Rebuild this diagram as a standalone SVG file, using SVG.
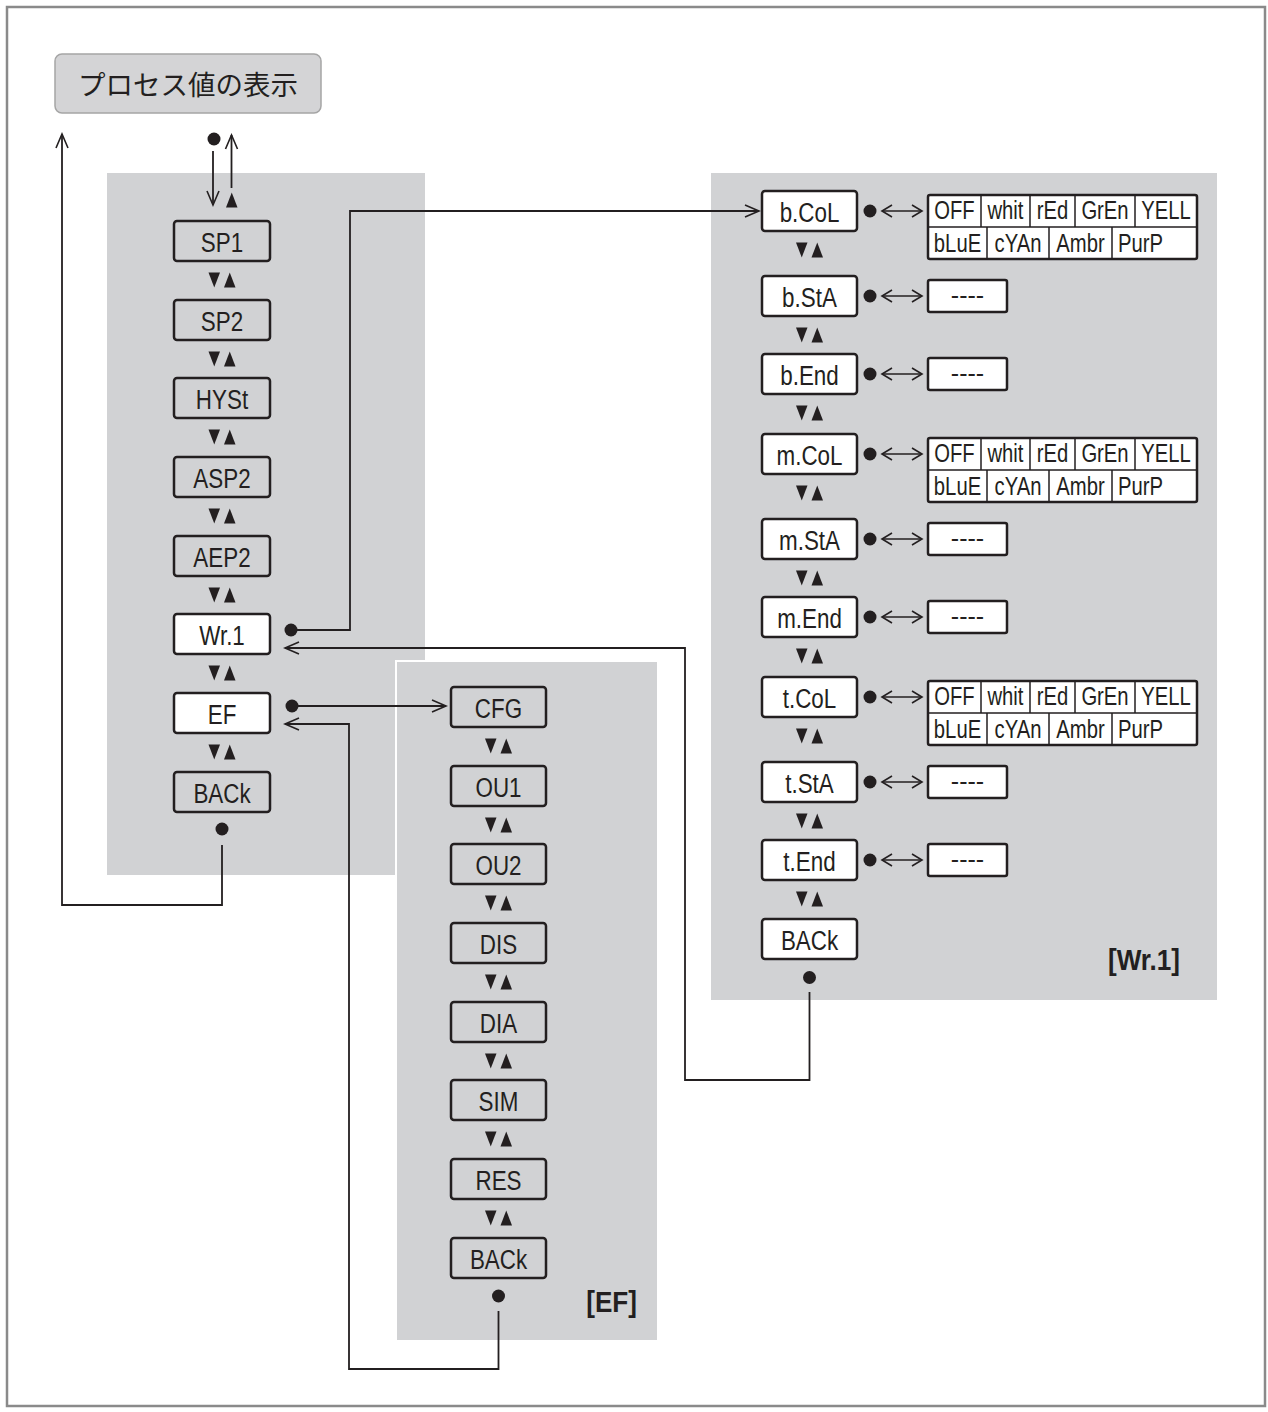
<svg xmlns="http://www.w3.org/2000/svg" xmlns:xlink="http://www.w3.org/1999/xlink" width="1268" height="1412" viewBox="0 0 1268 1412">
<style>
.panel{fill:#d1d2d4}
.box{fill:none;stroke:#231f20;stroke-width:2.5}
.wbox{fill:#ffffff;stroke:#231f20;stroke-width:2.5}
.n{font-family:"Liberation Sans",Arial,sans-serif;font-size:28px;fill:#231f20;text-anchor:middle}
.o{font-family:"Liberation Sans",Arial,sans-serif;font-size:25px;fill:#231f20;text-anchor:middle}
.ol{font-family:"Liberation Sans",Arial,sans-serif;font-size:25px;fill:#231f20;text-anchor:start}
.lbl{font-family:"Liberation Sans",Arial,sans-serif;font-size:29px;font-weight:bold;fill:#231f20;text-anchor:end}
.c{fill:none;stroke:#231f20;stroke-width:1.8}
.d{fill:none;stroke:#231f20;stroke-width:1.6}
.grid{stroke:#231f20;stroke-width:1.5}
.dot{fill:#231f20}
</style>
<defs>
<marker id="op" viewBox="-15 -8 17 16" refX="0" refY="0" markerWidth="17" markerHeight="16" markerUnits="userSpaceOnUse" orient="auto-start-reverse">
<path d="M-14,-6 L0,0 L-14,6" fill="none" stroke="#231f20" stroke-width="1.6"/>
</marker>
<marker id="dbl" viewBox="-12 -8 14 16" refX="0" refY="0" markerWidth="14" markerHeight="16" markerUnits="userSpaceOnUse" orient="auto-start-reverse">
<path d="M-10,-6 L0,0 L-10,6" fill="none" stroke="#231f20" stroke-width="1.6"/>
</marker>
<symbol id="ud" overflow="visible">
<polygon points="-13.5,-7.5 -2,-7.5 -7.75,7.5" fill="#231f20"/>
<polygon points="2,7.5 13.5,7.5 7.75,-7.5" fill="#231f20"/>
</symbol>
</defs>
<rect x="0" y="0" width="1268" height="1412" fill="#ffffff"/>
<rect x="7" y="7" width="1258" height="1399" fill="none" stroke="#8a8a8a" stroke-width="2.5"/>

<g id="panels">
<rect class="panel" x="107" y="173" width="318" height="702"/>
<rect class="panel" x="711" y="173" width="506" height="827"/>
<rect class="panel" x="396" y="661" width="262" height="680" stroke="#ffffff" stroke-width="2"/>
</g>

<g id="title">
<rect x="55" y="54" width="266" height="59" rx="7" fill="#d4d4d6" stroke="#a5a5a5" stroke-width="1.5"/>
<text x="188" y="95" style="font-family:'Noto Sans CJK JP','Noto Sans CJK SC',sans-serif;font-size:27.5px;fill:#231f20;text-anchor:middle">プロセス値の表示</text>
</g>

<g id="connectors">
<circle class="dot" cx="214" cy="139" r="6.5"/>
<path class="c" d="M213,151 V205" marker-end="url(#op)"/>
<polygon points="226,207.5 237.5,207.5 231.75,192.5" fill="#231f20"/>
<path class="c" d="M231.5,188 V135" marker-end="url(#op)"/>
<circle class="dot" cx="222" cy="829" r="6.5"/>
<path class="c" d="M222,845 V905 H62 V134" marker-end="url(#op)"/>
<circle class="dot" cx="291" cy="630" r="6.5"/>
<path class="c" d="M291,630 H350 V211 H759" marker-end="url(#op)"/>
<circle class="dot" cx="809.5" cy="977.5" r="6.5"/>
<path class="c" d="M809.5,992 V1080 H685 V648 H285" marker-end="url(#op)"/>
<circle class="dot" cx="292" cy="706" r="6.5"/>
<path class="c" d="M292,706 H446" marker-end="url(#op)"/>
<circle class="dot" cx="498.5" cy="1296" r="6.5"/>
<path class="c" d="M498.5,1311 V1369 H349 V724 H285" marker-end="url(#op)"/>
<use xlink:href="#ud" x="222" y="280"/>
<use xlink:href="#ud" x="222" y="359"/>
<use xlink:href="#ud" x="222" y="437"/>
<use xlink:href="#ud" x="222" y="516"/>
<use xlink:href="#ud" x="222" y="595"/>
<use xlink:href="#ud" x="222" y="673"/>
<use xlink:href="#ud" x="222" y="752"/>
<use xlink:href="#ud" x="809.5" y="250"/>
<use xlink:href="#ud" x="809.5" y="335"/>
<use xlink:href="#ud" x="809.5" y="413"/>
<use xlink:href="#ud" x="809.5" y="493"/>
<use xlink:href="#ud" x="809.5" y="578"/>
<use xlink:href="#ud" x="809.5" y="656"/>
<use xlink:href="#ud" x="809.5" y="736"/>
<use xlink:href="#ud" x="809.5" y="821"/>
<use xlink:href="#ud" x="809.5" y="899"/>
<use xlink:href="#ud" x="498.5" y="746"/>
<use xlink:href="#ud" x="498.5" y="825"/>
<use xlink:href="#ud" x="498.5" y="903"/>
<use xlink:href="#ud" x="498.5" y="982"/>
<use xlink:href="#ud" x="498.5" y="1061"/>
<use xlink:href="#ud" x="498.5" y="1139"/>
<use xlink:href="#ud" x="498.5" y="1218"/>
<circle class="dot" cx="870" cy="211" r="6.5"/><path class="d" d="M882,211 H922" marker-start="url(#dbl)" marker-end="url(#dbl)"/>
<circle class="dot" cx="870" cy="296" r="6.5"/><path class="d" d="M882,296 H922" marker-start="url(#dbl)" marker-end="url(#dbl)"/>
<circle class="dot" cx="870" cy="374" r="6.5"/><path class="d" d="M882,374 H922" marker-start="url(#dbl)" marker-end="url(#dbl)"/>
<circle class="dot" cx="870" cy="454" r="6.5"/><path class="d" d="M882,454 H922" marker-start="url(#dbl)" marker-end="url(#dbl)"/>
<circle class="dot" cx="870" cy="539" r="6.5"/><path class="d" d="M882,539 H922" marker-start="url(#dbl)" marker-end="url(#dbl)"/>
<circle class="dot" cx="870" cy="617" r="6.5"/><path class="d" d="M882,617 H922" marker-start="url(#dbl)" marker-end="url(#dbl)"/>
<circle class="dot" cx="870" cy="697" r="6.5"/><path class="d" d="M882,697 H922" marker-start="url(#dbl)" marker-end="url(#dbl)"/>
<circle class="dot" cx="870" cy="782" r="6.5"/><path class="d" d="M882,782 H922" marker-start="url(#dbl)" marker-end="url(#dbl)"/>
<circle class="dot" cx="870" cy="860" r="6.5"/><path class="d" d="M882,860 H922" marker-start="url(#dbl)" marker-end="url(#dbl)"/>
</g>

<g id="n-SP1"><rect class="box" x="174" y="221" width="96" height="40" rx="3"/><text class="n" transform="matrix(0.8 0 0 1 222 251.5)">SP1</text></g>
<g id="n-SP2"><rect class="box" x="174" y="300" width="96" height="40" rx="3"/><text class="n" transform="matrix(0.8 0 0 1 222 330.5)">SP2</text></g>
<g id="n-HYSt"><rect class="box" x="174" y="378" width="96" height="40" rx="3"/><text class="n" transform="matrix(0.8 0 0 1 222 408.5)">HYSt</text></g>
<g id="n-ASP2"><rect class="box" x="174" y="457" width="96" height="40" rx="3"/><text class="n" transform="matrix(0.8 0 0 1 222 487.5)">ASP2</text></g>
<g id="n-AEP2"><rect class="box" x="174" y="536" width="96" height="40" rx="3"/><text class="n" transform="matrix(0.8 0 0 1 222 566.5)">AEP2</text></g>
<g id="n-Wr1"><rect class="wbox" x="174" y="614" width="96" height="40" rx="3"/><text class="n" transform="matrix(0.8 0 0 1 222 644.5)">Wr.1</text></g>
<g id="n-EF"><rect class="wbox" x="174" y="693" width="96" height="40" rx="3"/><text class="n" transform="matrix(0.8 0 0 1 222 723.5)">EF</text></g>
<g id="n-BACk-main"><rect class="box" x="174" y="772" width="96" height="40" rx="3"/><text class="n" transform="matrix(0.8 0 0 1 222 802.5)">BACk</text></g>

<g id="n-CFG"><rect class="box" x="451" y="687" width="95" height="40" rx="3"/><text class="n" transform="matrix(0.8 0 0 1 498.5 717.5)">CFG</text></g>
<g id="n-OU1"><rect class="box" x="451" y="766" width="95" height="40" rx="3"/><text class="n" transform="matrix(0.8 0 0 1 498.5 796.5)">OU1</text></g>
<g id="n-OU2"><rect class="box" x="451" y="844" width="95" height="40" rx="3"/><text class="n" transform="matrix(0.8 0 0 1 498.5 874.5)">OU2</text></g>
<g id="n-DIS"><rect class="box" x="451" y="923" width="95" height="40" rx="3"/><text class="n" transform="matrix(0.8 0 0 1 498.5 953.5)">DIS</text></g>
<g id="n-DIA"><rect class="box" x="451" y="1002" width="95" height="40" rx="3"/><text class="n" transform="matrix(0.8 0 0 1 498.5 1032.5)">DIA</text></g>
<g id="n-SIM"><rect class="box" x="451" y="1080" width="95" height="40" rx="3"/><text class="n" transform="matrix(0.8 0 0 1 498.5 1110.5)">SIM</text></g>
<g id="n-RES"><rect class="box" x="451" y="1159" width="95" height="40" rx="3"/><text class="n" transform="matrix(0.8 0 0 1 498.5 1189.5)">RES</text></g>
<g id="n-BACk-EF"><rect class="box" x="451" y="1238" width="95" height="40" rx="3"/><text class="n" transform="matrix(0.8 0 0 1 498.5 1268.5)">BACk</text></g>
<g id="lbl-EF"><text class="lbl" transform="matrix(0.9 0 0 1 637 1312)">[EF]</text></g>

<g id="n-bCoL"><rect class="wbox" x="762" y="191" width="95" height="40" rx="3"/><text class="n" transform="matrix(0.8 0 0 1 809.5 221.5)">b.CoL</text></g>
<g id="n-bStA"><rect class="wbox" x="762" y="276" width="95" height="40" rx="3"/><text class="n" transform="matrix(0.8 0 0 1 809.5 306.5)">b.StA</text></g>
<g id="n-bEnd"><rect class="wbox" x="762" y="354" width="95" height="40" rx="3"/><text class="n" transform="matrix(0.8 0 0 1 809.5 384.5)">b.End</text></g>
<g id="n-mCoL"><rect class="wbox" x="762" y="434" width="95" height="40" rx="3"/><text class="n" transform="matrix(0.8 0 0 1 809.5 464.5)">m.CoL</text></g>
<g id="n-mStA"><rect class="wbox" x="762" y="519" width="95" height="40" rx="3"/><text class="n" transform="matrix(0.8 0 0 1 809.5 549.5)">m.StA</text></g>
<g id="n-mEnd"><rect class="wbox" x="762" y="597" width="95" height="40" rx="3"/><text class="n" transform="matrix(0.8 0 0 1 809.5 627.5)">m.End</text></g>
<g id="n-tCoL"><rect class="wbox" x="762" y="677" width="95" height="40" rx="3"/><text class="n" transform="matrix(0.8 0 0 1 809.5 707.5)">t.CoL</text></g>
<g id="n-tStA"><rect class="wbox" x="762" y="762" width="95" height="40" rx="3"/><text class="n" transform="matrix(0.8 0 0 1 809.5 792.5)">t.StA</text></g>
<g id="n-tEnd"><rect class="wbox" x="762" y="840" width="95" height="40" rx="3"/><text class="n" transform="matrix(0.8 0 0 1 809.5 870.5)">t.End</text></g>
<g id="n-BACk-Wr1"><rect class="wbox" x="762" y="919" width="95" height="40" rx="3"/><text class="n" transform="matrix(0.8 0 0 1 809.5 949.5)">BACk</text></g>
<g id="lbl-Wr1"><text class="lbl" transform="matrix(0.9 0 0 1 1180 970)">[Wr.1]</text></g>

<g id="v-bCoL">
<rect class="wbox" x="928" y="195" width="269" height="64" rx="2"/>
<path class="grid" d="M928,227 H1197 M981,195 V227 M1030,195 V227 M1075,195 V227 M1135,195 V227 M987,227 V259 M1049,227 V259 M1112,227 V259"/>
<text class="o" transform="matrix(0.81 0 0 1 954.5 218.5)">OFF</text>
<text class="o" transform="matrix(0.81 0 0 1 1005.5 218.5)">whit</text>
<text class="o" transform="matrix(0.81 0 0 1 1052.5 218.5)">rEd</text>
<text class="o" transform="matrix(0.81 0 0 1 1105 218.5)">GrEn</text>
<text class="o" transform="matrix(0.81 0 0 1 1166 218.5)">YELL</text>
<text class="o" transform="matrix(0.81 0 0 1 957.5 251.5)">bLuE</text>
<text class="o" transform="matrix(0.81 0 0 1 1018 251.5)">cYAn</text>
<text class="o" transform="matrix(0.81 0 0 1 1080.5 251.5)">Ambr</text>
<text class="ol" transform="matrix(0.81 0 0 1 1118 251.5)">PurP</text>
</g>
<g id="v-bStA"><rect class="wbox" x="928" y="280" width="79" height="32" rx="2"/><text class="o" x="967.5" y="304">----</text></g>
<g id="v-bEnd"><rect class="wbox" x="928" y="358" width="79" height="32" rx="2"/><text class="o" x="967.5" y="382">----</text></g>
<g id="v-mCoL">
<rect class="wbox" x="928" y="438" width="269" height="64" rx="2"/>
<path class="grid" d="M928,470 H1197 M981,438 V470 M1030,438 V470 M1075,438 V470 M1135,438 V470 M987,470 V502 M1049,470 V502 M1112,470 V502"/>
<text class="o" transform="matrix(0.81 0 0 1 954.5 461.5)">OFF</text>
<text class="o" transform="matrix(0.81 0 0 1 1005.5 461.5)">whit</text>
<text class="o" transform="matrix(0.81 0 0 1 1052.5 461.5)">rEd</text>
<text class="o" transform="matrix(0.81 0 0 1 1105 461.5)">GrEn</text>
<text class="o" transform="matrix(0.81 0 0 1 1166 461.5)">YELL</text>
<text class="o" transform="matrix(0.81 0 0 1 957.5 494.5)">bLuE</text>
<text class="o" transform="matrix(0.81 0 0 1 1018 494.5)">cYAn</text>
<text class="o" transform="matrix(0.81 0 0 1 1080.5 494.5)">Ambr</text>
<text class="ol" transform="matrix(0.81 0 0 1 1118 494.5)">PurP</text>
</g>
<g id="v-mStA"><rect class="wbox" x="928" y="523" width="79" height="32" rx="2"/><text class="o" x="967.5" y="547">----</text></g>
<g id="v-mEnd"><rect class="wbox" x="928" y="601" width="79" height="32" rx="2"/><text class="o" x="967.5" y="625">----</text></g>
<g id="v-tCoL">
<rect class="wbox" x="928" y="681" width="269" height="64" rx="2"/>
<path class="grid" d="M928,713 H1197 M981,681 V713 M1030,681 V713 M1075,681 V713 M1135,681 V713 M987,713 V745 M1049,713 V745 M1112,713 V745"/>
<text class="o" transform="matrix(0.81 0 0 1 954.5 704.5)">OFF</text>
<text class="o" transform="matrix(0.81 0 0 1 1005.5 704.5)">whit</text>
<text class="o" transform="matrix(0.81 0 0 1 1052.5 704.5)">rEd</text>
<text class="o" transform="matrix(0.81 0 0 1 1105 704.5)">GrEn</text>
<text class="o" transform="matrix(0.81 0 0 1 1166 704.5)">YELL</text>
<text class="o" transform="matrix(0.81 0 0 1 957.5 737.5)">bLuE</text>
<text class="o" transform="matrix(0.81 0 0 1 1018 737.5)">cYAn</text>
<text class="o" transform="matrix(0.81 0 0 1 1080.5 737.5)">Ambr</text>
<text class="ol" transform="matrix(0.81 0 0 1 1118 737.5)">PurP</text>
</g>
<g id="v-tStA"><rect class="wbox" x="928" y="766" width="79" height="32" rx="2"/><text class="o" x="967.5" y="790">----</text></g>
<g id="v-tEnd"><rect class="wbox" x="928" y="844" width="79" height="32" rx="2"/><text class="o" x="967.5" y="868">----</text></g>
</svg>
